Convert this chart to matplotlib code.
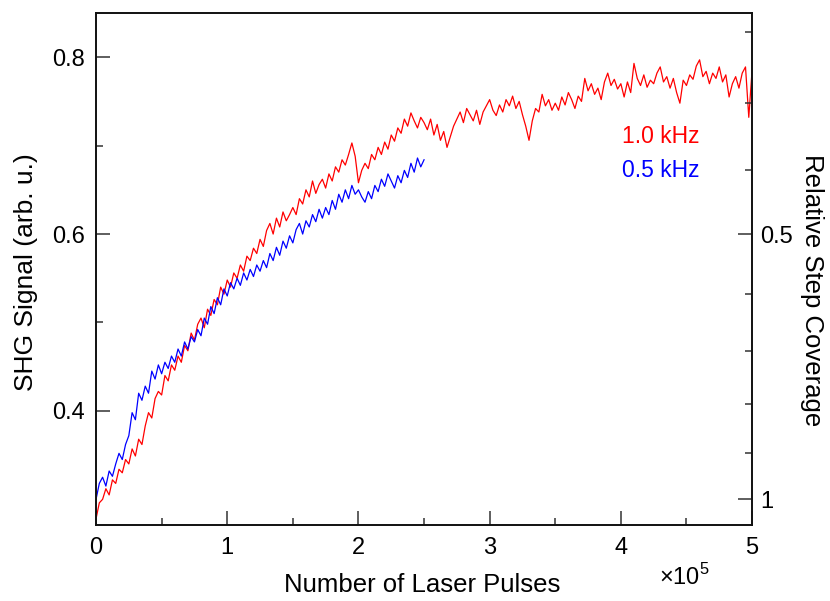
import numpy as np
import matplotlib
matplotlib.use("Agg")
import matplotlib.pyplot as plt
from matplotlib.ticker import FixedLocator, FuncFormatter

plt.rcParams['font.family'] = ['Liberation Sans', 'DejaVu Sans']
plt.rcParams['mathtext.fontset'] = 'custom'
plt.rcParams['mathtext.rm'] = 'Liberation Sans'

# SHG signal, 1.0 kHz run, one value every 2500 pulses (0 .. 5e5)
red_1khz = [
    0.278, 0.296, 0.300, 0.312, 0.305, 0.322, 0.318, 0.334, 0.330, 0.345,
    0.340, 0.357, 0.349, 0.368, 0.362, 0.383, 0.398, 0.392, 0.414, 0.422,
    0.418, 0.440, 0.434, 0.452, 0.446, 0.462, 0.455, 0.474, 0.468, 0.488,
    0.480, 0.498, 0.505, 0.494, 0.515, 0.508, 0.526, 0.520, 0.540, 0.532,
    0.548, 0.540, 0.556, 0.550, 0.565, 0.558, 0.575, 0.570, 0.584, 0.578,
    0.594, 0.586, 0.604, 0.612, 0.600, 0.618, 0.608, 0.625, 0.615, 0.622,
    0.630, 0.622, 0.640, 0.634, 0.650, 0.642, 0.660, 0.646, 0.656, 0.662,
    0.652, 0.668, 0.660, 0.676, 0.670, 0.684, 0.678, 0.690, 0.703, 0.688,
    0.658, 0.672, 0.680, 0.674, 0.690, 0.684, 0.698, 0.690, 0.704, 0.696,
    0.712, 0.705, 0.720, 0.714, 0.730, 0.722, 0.737, 0.728, 0.720, 0.732,
    0.726, 0.718, 0.730, 0.712, 0.724, 0.706, 0.716, 0.698, 0.710, 0.722,
    0.730, 0.738, 0.726, 0.742, 0.735, 0.728, 0.740, 0.724, 0.738, 0.745,
    0.752, 0.740, 0.734, 0.746, 0.738, 0.752, 0.745, 0.756, 0.742, 0.750,
    0.735, 0.722, 0.706, 0.728, 0.742, 0.738, 0.758, 0.745, 0.752, 0.740,
    0.748, 0.740, 0.755, 0.746, 0.760, 0.752, 0.742, 0.756, 0.750, 0.776,
    0.762, 0.770, 0.758, 0.765, 0.752, 0.772, 0.782, 0.768, 0.775, 0.764,
    0.770, 0.755, 0.772, 0.760, 0.793, 0.776, 0.768, 0.780, 0.766, 0.774,
    0.770, 0.782, 0.789, 0.772, 0.778, 0.765, 0.776, 0.760, 0.748, 0.774,
    0.768, 0.780, 0.775, 0.790, 0.797, 0.778, 0.784, 0.770, 0.782, 0.776,
    0.789, 0.772, 0.780, 0.755, 0.770, 0.778, 0.765, 0.782, 0.789, 0.732,
    0.785,
]

# SHG signal, 0.5 kHz run, one value every 2500 pulses (0 .. 2.5e5)
blue_05khz = [
    0.300, 0.318, 0.325, 0.315, 0.332, 0.326, 0.340, 0.352, 0.345, 0.362,
    0.372, 0.398, 0.390, 0.420, 0.412, 0.428, 0.420, 0.445, 0.436, 0.452,
    0.442, 0.455, 0.448, 0.462, 0.455, 0.470, 0.462, 0.478, 0.470, 0.484,
    0.478, 0.492, 0.485, 0.505, 0.498, 0.518, 0.510, 0.528, 0.520, 0.538,
    0.530, 0.545, 0.538, 0.550, 0.542, 0.556, 0.548, 0.560, 0.552, 0.565,
    0.558, 0.570, 0.562, 0.578, 0.570, 0.585, 0.576, 0.592, 0.584, 0.598,
    0.590, 0.605, 0.612, 0.600, 0.615, 0.608, 0.622, 0.614, 0.628, 0.618,
    0.630, 0.622, 0.638, 0.628, 0.645, 0.636, 0.650, 0.640, 0.655, 0.645,
    0.650, 0.642, 0.636, 0.648, 0.640, 0.655, 0.648, 0.662, 0.654, 0.668,
    0.660, 0.652, 0.666, 0.658, 0.672, 0.664, 0.680, 0.670, 0.686, 0.676,
    0.684,
]

pulse_step = 2500
x_ticks = [0, 1e5, 2e5, 3e5, 4e5, 5e5]
x_minor = [0.5e5, 1.5e5, 2.5e5, 3.5e5, 4.5e5]
shg_ticks = [0.4, 0.6, 0.8]
shg_minor = [0.5, 0.7]
coverage_major = [0.5, 1.0]
coverage_major_labels = ['0.5', '1']
coverage_minor = [0.2, 0.3, 0.4, 0.6, 0.7, 0.8, 0.9]


def coverage_to_shg(c):
    # relation between the right-hand scale and the SHG scale
    c = np.asarray(c, dtype=float)
    return 1.0 - 0.9 * c + 0.2 * c ** 2


def main():
    x_red = np.arange(len(red_1khz)) * pulse_step
    x_blue = np.arange(len(blue_05khz)) * pulse_step

    fig = plt.figure(figsize=(8.30, 6.01), dpi=100)
    ax = fig.add_axes([0.1157, 0.1265, 0.7904, 0.8519])

    ax.plot(x_red, red_1khz, color='#ff0000', lw=0.9)
    ax.plot(x_blue, blue_05khz, color='#0000ff', lw=0.9)

    ax.set_xlim(0, 5e5)
    ax.set_ylim(0.271, 0.85)

    ax.set_xticks(x_ticks)
    ax.xaxis.set_major_formatter(FuncFormatter(lambda v, p: f"{v / 1e5:g}"))
    ax.xaxis.set_minor_locator(FixedLocator(x_minor))
    ax.set_yticks(shg_ticks)
    ax.set_yticklabels([f"{v:.1f}" for v in shg_ticks])
    ax.yaxis.set_minor_locator(FixedLocator(shg_minor))

    ax.tick_params(axis='both', which='both', direction='in', labelsize=17,
                   color='#333333', top=False, right=False)
    ax.tick_params(axis='both', which='major', length=10, width=1.1)
    ax.tick_params(axis='both', which='minor', length=5, width=1.1)
    ax.tick_params(axis='x', pad=9)
    ax.tick_params(axis='y', pad=8)
    for s in ax.spines.values():
        s.set_linewidth(1.2)
        s.set_color('#111111')

    ax2 = ax.twinx()
    ax2.set_ylim(ax.get_ylim())
    ax2.set_yticks(coverage_to_shg(coverage_major))
    ax2.set_yticklabels(coverage_major_labels)
    ax2.yaxis.set_minor_locator(FixedLocator(coverage_to_shg(coverage_minor)))
    ax2.tick_params(axis='y', which='both', direction='in', labelsize=17,
                    color='#333333', pad=6)
    ax2.tick_params(axis='y', which='major', length=10, width=1.1)
    ax2.tick_params(axis='y', which='minor', length=5, width=1.1)
    for s in ax2.spines.values():
        s.set_linewidth(1.2)
        s.set_color('#111111')

    ax.text(0.920, 0.758, '1.0 kHz', color='#ff0000', fontsize=16.5,
            ha='right', va='center', transform=ax.transAxes)
    ax.text(0.920, 0.693, '0.5 kHz', color='#0000ff', fontsize=16.5,
            ha='right', va='center', transform=ax.transAxes)

    fig.text(0.509, 0.026, 'Number of Laser Pulses', fontsize=18.5,
             ha='center', va='center')
    fig.text(0.031, 0.547, 'SHG Signal (arb. u.)', fontsize=19,
             ha='center', va='center', rotation=90)
    fig.text(0.978, 0.517, 'Relative Step Coverage', fontsize=18.5,
             ha='center', va='center', rotation=270)
    fig.text(0.824, 0.040, r'$\times10^{5}$', fontsize=17,
             ha='center', va='center')

    fig.savefig('out.png', dpi=100)


if __name__ == "__main__":
    main()
